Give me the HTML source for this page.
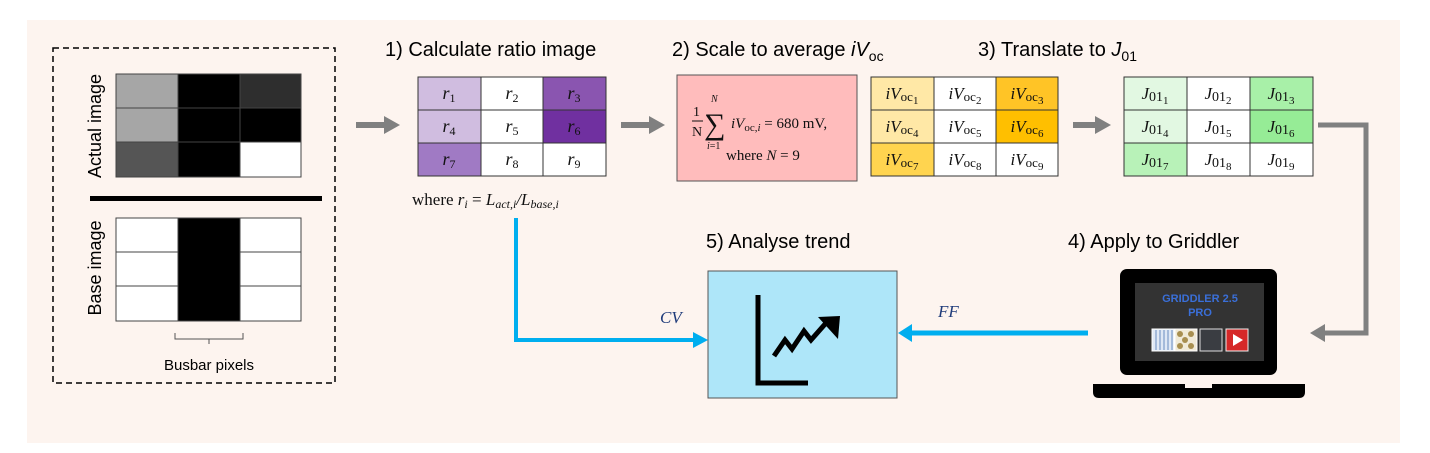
<!DOCTYPE html>
<html><head><meta charset="utf-8"><style>
body{margin:0;background:#fff;}
svg{display:block;}
.t{font-family:"Liberation Sans",sans-serif;fill:#000;}
.m{font-family:"Liberation Serif",serif;font-style:italic;fill:#111;}
.s{font-family:"Liberation Serif",serif;fill:#111;}
</style></head><body>
<svg width="1430" height="453" viewBox="0 0 1430 453" xmlns="http://www.w3.org/2000/svg">
<rect x="27" y="20" width="1373" height="423" fill="#fdf4ef"/>
<rect x="53" y="48" width="282" height="335" fill="none" stroke="#000" stroke-width="1.5" stroke-dasharray="6,4"/>
<g stroke="#444" stroke-width="1">
<rect x="116" y="74" width="62" height="34" fill="#a6a6a6"/>
<rect x="178" y="74" width="62" height="34" fill="#000"/>
<rect x="240" y="74" width="61" height="34" fill="#2e2e2e"/>
<rect x="116" y="108" width="62" height="34" fill="#a6a6a6"/>
<rect x="178" y="108" width="62" height="34" fill="#000"/>
<rect x="240" y="108" width="61" height="34" fill="#000"/>
<rect x="116" y="142" width="62" height="35" fill="#555"/>
<rect x="178" y="142" width="62" height="35" fill="#000"/>
<rect x="240" y="142" width="61" height="35" fill="#fff"/>
</g>
<text class="t" style="font-size:18px" transform="translate(101,126) rotate(-90)" text-anchor="middle">Actual image</text>
<rect x="90" y="196" width="232" height="5" fill="#000"/>
<g stroke="#444" stroke-width="1">
<rect x="116" y="218" width="62" height="34" fill="#fff"/>
<rect x="116" y="252" width="62" height="34" fill="#fff"/>
<rect x="116" y="286" width="62" height="35" fill="#fff"/>
<rect x="240" y="218" width="61" height="34" fill="#fff"/>
<rect x="240" y="252" width="61" height="34" fill="#fff"/>
<rect x="240" y="286" width="61" height="35" fill="#fff"/>
<rect x="178" y="218" width="62" height="103" fill="#000"/>
</g>
<text class="t" style="font-size:18px" transform="translate(101,268) rotate(-90)" text-anchor="middle">Base image</text>
<path d="M175,333 v6 h34 v5 M209,339 h34 v-6" fill="none" stroke="#555" stroke-width="1"/>
<text class="t" style="font-size:15px" x="209" y="370" text-anchor="middle">Busbar pixels</text>
<g fill="#808080">
<rect x="356" y="122" width="30" height="6"/><polygon points="384,116 400,125 384,134"/>
<rect x="621" y="122" width="30" height="6"/><polygon points="649,116 665,125 649,134"/>
<rect x="1073" y="122" width="24" height="6"/><polygon points="1095,116 1111,125 1095,134"/>
</g>
<path d="M1318,125 H1366 V333 H1322" fill="none" stroke="#808080" stroke-width="5"/>
<polygon points="1325,324 1310,333 1325,342" fill="#808080"/>
<text class="t" style="font-size:20px" x="385" y="56">1) Calculate ratio image</text>
<text class="t" style="font-size:20px" x="672" y="56">2) Scale to average <tspan font-style="italic">iV</tspan><tspan font-size="14" dy="5">oc</tspan></text>
<text class="t" style="font-size:20px" x="978" y="56">3) Translate to <tspan font-style="italic">J</tspan><tspan font-size="14" dy="5">01</tspan></text>
<text class="t" style="font-size:20px" x="1068" y="248">4) Apply to Griddler</text>
<text class="t" style="font-size:20px" x="706" y="248">5) Analyse trend</text>
<g stroke="#333" stroke-width="1">
<rect x="418" y="77" width="63" height="33" fill="#d0bde0"/>
<rect x="481" y="77" width="62" height="33" fill="#fff"/>
<rect x="543" y="77" width="63" height="33" fill="#8a55b0"/>
<rect x="418" y="110" width="63" height="33" fill="#d0bde0"/>
<rect x="481" y="110" width="62" height="33" fill="#fff"/>
<rect x="543" y="110" width="63" height="33" fill="#7030a0"/>
<rect x="418" y="143" width="63" height="33" fill="#a07ac4"/>
<rect x="481" y="143" width="62" height="33" fill="#fff"/>
<rect x="543" y="143" width="63" height="33" fill="#fff"/>
</g>
<g class="m" text-anchor="middle" style="font-size:18px">
<text x="449" y="99">r<tspan font-size="12" font-style="normal" dy="3">1</tspan></text>
<text x="512" y="99">r<tspan font-size="12" font-style="normal" dy="3">2</tspan></text>
<text x="574" y="99">r<tspan font-size="12" font-style="normal" dy="3">3</tspan></text>
<text x="449" y="132">r<tspan font-size="12" font-style="normal" dy="3">4</tspan></text>
<text x="512" y="132">r<tspan font-size="12" font-style="normal" dy="3">5</tspan></text>
<text x="574" y="132">r<tspan font-size="12" font-style="normal" dy="3">6</tspan></text>
<text x="449" y="165">r<tspan font-size="12" font-style="normal" dy="3">7</tspan></text>
<text x="512" y="165">r<tspan font-size="12" font-style="normal" dy="3">8</tspan></text>
<text x="574" y="165">r<tspan font-size="12" font-style="normal" dy="3">9</tspan></text>
</g>
<text class="s" style="font-size:17px" x="412" y="205">where <tspan font-style="italic">r<tspan font-size="12" dy="3">i</tspan></tspan><tspan dy="-3"> = </tspan><tspan font-style="italic">L<tspan font-size="12" dy="3">act,i</tspan><tspan dy="-3">/L</tspan><tspan font-size="12" dy="3">base,i</tspan></tspan></text>
<rect x="677" y="75" width="180" height="106" fill="#ffbcbc" stroke="#555" stroke-width="1"/>
<text class="s" style="font-size:14px" x="693" y="116">1</text>
<line x1="692" y1="121" x2="703" y2="121" stroke="#111" stroke-width="1"/>
<text class="s" style="font-size:14px" x="692" y="136">N</text>
<text class="s" style="font-size:30px" x="704" y="134">∑</text>
<text class="m" style="font-size:10px" x="711" y="102">N</text>
<text class="s" style="font-size:10px" x="707" y="149"><tspan font-style="italic">i</tspan>=1</text>
<text class="s" style="font-size:15px" x="731" y="128"><tspan font-style="italic">iV</tspan><tspan font-size="11" dy="3">oc,<tspan font-style="italic">i</tspan></tspan><tspan dy="-3"> = 680 mV,</tspan></text>
<text class="s" style="font-size:15px" x="726" y="160">where <tspan font-style="italic">N</tspan> = 9</text>
<g stroke="#333" stroke-width="1">
<rect x="871" y="77" width="63" height="33" fill="#ffe8a6"/>
<rect x="934" y="77" width="62" height="33" fill="#fff"/>
<rect x="996" y="77" width="62" height="33" fill="#ffc426"/>
<rect x="871" y="110" width="63" height="33" fill="#ffe8a6"/>
<rect x="934" y="110" width="62" height="33" fill="#fff"/>
<rect x="996" y="110" width="62" height="33" fill="#ffbf00"/>
<rect x="871" y="143" width="63" height="33" fill="#ffd44f"/>
<rect x="934" y="143" width="62" height="33" fill="#fff"/>
<rect x="996" y="143" width="62" height="33" fill="#fff"/>
</g>
<g class="m" text-anchor="middle" style="font-size:17px">
<text x="902" y="99">iV<tspan font-style="normal" font-size="13" dy="2">oc<tspan font-size="11" dy="3">1</tspan></tspan></text>
<text x="965" y="99">iV<tspan font-style="normal" font-size="13" dy="2">oc<tspan font-size="11" dy="3">2</tspan></tspan></text>
<text x="1027" y="99">iV<tspan font-style="normal" font-size="13" dy="2">oc<tspan font-size="11" dy="3">3</tspan></tspan></text>
<text x="902" y="132">iV<tspan font-style="normal" font-size="13" dy="2">oc<tspan font-size="11" dy="3">4</tspan></tspan></text>
<text x="965" y="132">iV<tspan font-style="normal" font-size="13" dy="2">oc<tspan font-size="11" dy="3">5</tspan></tspan></text>
<text x="1027" y="132">iV<tspan font-style="normal" font-size="13" dy="2">oc<tspan font-size="11" dy="3">6</tspan></tspan></text>
<text x="902" y="165">iV<tspan font-style="normal" font-size="13" dy="2">oc<tspan font-size="11" dy="3">7</tspan></tspan></text>
<text x="965" y="165">iV<tspan font-style="normal" font-size="13" dy="2">oc<tspan font-size="11" dy="3">8</tspan></tspan></text>
<text x="1027" y="165">iV<tspan font-style="normal" font-size="13" dy="2">oc<tspan font-size="11" dy="3">9</tspan></tspan></text>
</g>
<g stroke="#333" stroke-width="1">
<rect x="1124" y="77" width="63" height="33" fill="#e2f8e2"/>
<rect x="1187" y="77" width="63" height="33" fill="#fff"/>
<rect x="1250" y="77" width="63" height="33" fill="#a8f0a8"/>
<rect x="1124" y="110" width="63" height="33" fill="#e2f8e2"/>
<rect x="1187" y="110" width="63" height="33" fill="#fff"/>
<rect x="1250" y="110" width="63" height="33" fill="#96ec96"/>
<rect x="1124" y="143" width="63" height="33" fill="#b8f2b8"/>
<rect x="1187" y="143" width="63" height="33" fill="#fff"/>
<rect x="1250" y="143" width="63" height="33" fill="#fff"/>
</g>
<g class="m" text-anchor="middle" style="font-size:17px">
<text x="1155" y="99">J<tspan font-style="normal" font-size="14" dy="2">01<tspan font-size="11" dy="3">1</tspan></tspan></text>
<text x="1218" y="99">J<tspan font-style="normal" font-size="14" dy="2">01<tspan font-size="11" dy="3">2</tspan></tspan></text>
<text x="1281" y="99">J<tspan font-style="normal" font-size="14" dy="2">01<tspan font-size="11" dy="3">3</tspan></tspan></text>
<text x="1155" y="132">J<tspan font-style="normal" font-size="14" dy="2">01<tspan font-size="11" dy="3">4</tspan></tspan></text>
<text x="1218" y="132">J<tspan font-style="normal" font-size="14" dy="2">01<tspan font-size="11" dy="3">5</tspan></tspan></text>
<text x="1281" y="132">J<tspan font-style="normal" font-size="14" dy="2">01<tspan font-size="11" dy="3">6</tspan></tspan></text>
<text x="1155" y="165">J<tspan font-style="normal" font-size="14" dy="2">01<tspan font-size="11" dy="3">7</tspan></tspan></text>
<text x="1218" y="165">J<tspan font-style="normal" font-size="14" dy="2">01<tspan font-size="11" dy="3">8</tspan></tspan></text>
<text x="1281" y="165">J<tspan font-style="normal" font-size="14" dy="2">01<tspan font-size="11" dy="3">9</tspan></tspan></text>
</g>
<path d="M516,218 V340 H695" fill="none" stroke="#00aeef" stroke-width="4"/>
<polygon points="693,332 708,340 693,348" fill="#00aeef"/>
<text class="m" x="660" y="323" style="fill:#1f3b7a;font-size:17px">CV</text>
<path d="M1088,333 H910" fill="none" stroke="#00aeef" stroke-width="5"/>
<polygon points="912,324 898,333 912,342" fill="#00aeef"/>
<text class="m" x="938" y="317" style="fill:#1f3b7a;font-size:17px">FF</text>
<rect x="708" y="271" width="189" height="127" fill="#aee6f9" stroke="#555" stroke-width="1"/>
<path d="M758,295 V383 H808" fill="none" stroke="#000" stroke-width="5"/>
<path d="M774,356 L785,340 L792,349 L804,331 L811,340 L826,323" fill="none" stroke="#000" stroke-width="5"/>
<polygon points="818,317 840,316 838,339" fill="#000"/>
<rect x="1120" y="269" width="157" height="106" rx="7" fill="#000"/>
<rect x="1135" y="283" width="129" height="78" fill="#333"/>
<path d="M1093,384 H1185 V388 H1212 V384 H1305 V392 Q1305,398 1299,398 H1099 Q1093,398 1093,392 Z" fill="#000"/>
<text x="1200" y="302" text-anchor="middle" font-family="Liberation Sans,sans-serif" font-weight="bold" font-size="11" fill="#3a6fd8">GRIDDLER 2.5</text>
<text x="1200" y="316" text-anchor="middle" font-family="Liberation Sans,sans-serif" font-weight="bold" font-size="11" fill="#3a6fd8">PRO</text>
<rect x="1152" y="329" width="22" height="22" fill="#dfe8f5" stroke="#fff"/>
<g stroke="#6a8cc0" stroke-width="1"><line x1="1156" y1="330" x2="1156" y2="350"/><line x1="1160" y1="330" x2="1160" y2="350"/><line x1="1164" y1="330" x2="1164" y2="350"/><line x1="1168" y1="330" x2="1168" y2="350"/><line x1="1172" y1="330" x2="1172" y2="350"/></g>
<rect x="1175" y="329" width="22" height="22" fill="#f0ead8" stroke="#fff"/>
<g fill="#a88f50"><circle cx="1180" cy="334" r="3"/><circle cx="1191" cy="334" r="3"/><circle cx="1185" cy="340" r="3"/><circle cx="1180" cy="346" r="3"/><circle cx="1191" cy="346" r="3"/></g>
<rect x="1200" y="329" width="22" height="22" fill="#3a3d42" stroke="#ddd"/>
<rect x="1226" y="329" width="22" height="22" fill="#d62828" stroke="#eee"/>
<polygon points="1233,334 1243,340 1233,346" fill="#fff"/>
</svg>
</body></html>
